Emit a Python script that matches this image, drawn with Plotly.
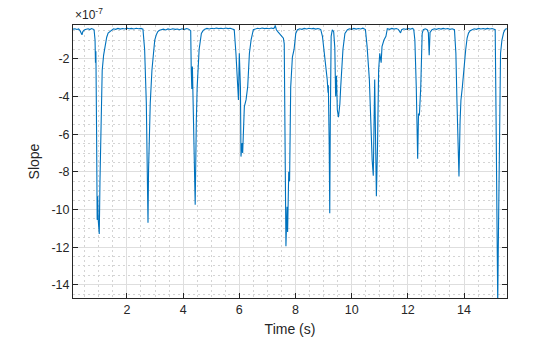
import plotly.graph_objects as go

# Time (s) and slope (in units of 1e-7)
time_s = [
    0.08, 0.15, 0.22, 0.28, 0.33, 0.37, 0.40, 0.43, 0.48, 0.55, 0.62, 0.68, 0.74, 0.80, 0.83,
    0.865, 0.88, 0.895, 0.92, 0.94, 0.96, 0.98, 1.0, 1.015, 1.04, 1.075, 1.12, 1.17, 1.22, 1.28, 1.33, 1.39,
    1.45, 1.52, 1.60, 1.68, 1.76, 1.85, 1.93, 2.00, 2.08, 2.16, 2.25, 2.33, 2.42, 2.50, 2.57,
    2.60, 2.63, 2.69, 2.72, 2.75, 2.77, 2.80, 2.83, 2.89, 2.94, 2.99, 3.05, 3.10, 3.16,
    3.22, 3.30, 3.38, 3.46, 3.55, 3.63, 3.72, 3.80, 3.88, 3.96, 4.05, 4.13, 4.20, 4.27,
    4.29, 4.31, 4.33, 4.35, 4.39, 4.43, 4.47, 4.50, 4.57, 4.61, 4.65, 4.71,
    4.77, 4.85, 4.93, 5.02, 5.10, 5.18, 5.27, 5.35, 5.43, 5.52, 5.60, 5.68, 5.76, 5.82,
    5.88, 5.94, 5.97, 6.00, 6.04, 6.06, 6.10, 6.12, 6.18, 6.24, 6.30, 6.36, 6.42,
    6.50, 6.57, 6.65, 6.73, 6.81, 6.90, 6.98, 7.06, 7.14, 7.21, 7.25, 7.28, 7.32, 7.37, 7.43, 7.49, 7.57,
    7.60, 7.63, 7.66, 7.70, 7.72, 7.76, 7.79, 7.83, 7.89, 7.95, 8.01,
    8.07, 8.15, 8.23, 8.31, 8.40, 8.48, 8.56, 8.64, 8.72, 8.80, 8.86, 8.90,
    8.96, 9.02, 9.08, 9.13, 9.16, 9.17, 9.20, 9.22, 9.24, 9.27, 9.31, 9.36, 9.40, 9.43, 9.46, 9.49, 9.53,
    9.58, 9.61, 9.65, 9.69, 9.76,
    9.85, 9.92, 10.00, 10.08, 10.16, 10.24, 10.32, 10.40, 10.46, 10.49,
    10.55, 10.63, 10.73, 10.77, 10.82, 10.84, 10.88, 10.92, 10.96, 11.00, 11.05, 11.08, 11.15, 11.22,
    11.27, 11.35, 11.43, 11.51, 11.59, 11.66, 11.71, 11.74, 11.78, 11.85, 11.93, 12.01, 12.09, 12.16, 12.21,
    12.25, 12.30, 12.33, 12.35, 12.38, 12.41, 12.46, 12.51,
    12.55, 12.62, 12.69, 12.73, 12.76, 12.79,
    12.86, 12.94, 13.02, 13.10, 13.18, 13.26, 13.34, 13.42, 13.50, 13.58, 13.66,
    13.71, 13.75, 13.80, 13.82, 13.86, 13.89, 13.94, 14.00, 14.06, 14.11, 14.16, 14.22,
    14.28, 14.36, 14.44, 14.52, 14.60, 14.68, 14.76, 14.84, 14.92, 15.00, 15.07, 15.11,
    15.14, 15.18, 15.20, 15.22, 15.26, 15.30, 15.35, 15.41, 15.47, 15.53,
]
slope_e7 = [
    -0.42, -0.40, -0.44, -0.41, -0.50, -0.68, -0.72, -0.55, -0.47, -0.43, -0.40, -0.44, -0.39, -0.42, -0.45,
    -1.0, -2.2, -1.6, -6.0, -10.55, -9.3, -10.6, -11.0, -11.3, -8.5, -5.2, -2.6, -1.8, -1.36, -0.85, -0.63, -0.55,
    -0.45, -0.40, -0.43, -0.38, -0.42, -0.39, -0.41, -0.37, -0.40, -0.38, -0.41, -0.37, -0.40, -0.38, -0.42,
    -0.8, -1.5, -4.35, -7.0, -10.7, -7.9, -5.5, -4.35, -2.6, -1.6, -1.0, -0.7, -0.55, -0.48,
    -0.45, -0.42, -0.46, -0.41, -0.44, -0.40, -0.43, -0.41, -0.45, -0.40, -0.43, -0.39, -0.42, -0.50,
    -2.6, -3.6, -2.4, -3.7, -6.7, -9.75, -5.3, -3.5, -1.5, -0.95, -0.65, -0.50,
    -0.42, -0.38, -0.41, -0.37, -0.40, -0.36, -0.39, -0.37, -0.40, -0.36, -0.39, -0.37, -0.41, -0.45,
    -1.7, -4.0, -4.18, -1.7, -3.47, -7.19, -6.47, -7.0, -4.53, -4.18, -3.47, -1.7, -0.99,
    -0.45, -0.40, -0.37, -0.40, -0.36, -0.39, -0.37, -0.40, -0.36, -0.39, -0.35, -0.22, -0.45, -0.55, -0.65, -0.75, -0.90,
    -1.2, -7.0, -11.95, -9.85, -11.2, -8.0, -8.5, -3.5, -1.9, -1.5, -0.65,
    -0.45, -0.40, -0.43, -0.38, -0.41, -0.37, -0.40, -0.38, -0.42, -0.39, -0.41, -0.45,
    -0.8, -1.7, -2.2, -3.1, -3.8, -3.4, -6.5, -10.2, -5.3, -0.8, -0.46, -0.55, -1.4, -4.0, -2.9, -4.7, -5.1,
    -4.4, -3.5, -2.6, -1.5, -0.65,
    -0.45, -0.40, -0.43, -0.38, -0.42, -0.39, -0.41, -0.37, -0.40, -0.44,
    -1.35, -3.1, -7.4, -8.2, -3.1, -6.8, -9.3, -6.7, -2.6, -1.7, -2.2, -1.35, -1.0, -0.8,
    -0.40, -0.43, -0.38, -0.42, -0.39, -0.43, -0.58, -0.62, -0.45, -0.40, -0.43, -0.39, -0.42, -0.38, -0.43,
    -1.0, -3.5, -5.3, -7.3, -4.9, -5.0, -3.5, -0.65,
    -0.45, -0.40, -0.45, -0.6, -1.8, -0.6,
    -0.45, -0.40, -0.43, -0.39, -0.42, -0.38, -0.41, -0.39, -0.43, -0.40, -0.45,
    -1.7, -4.35, -6.7, -8.25, -5.3, -4.2, -3.5, -2.4, -1.5, -0.9, -0.63, -0.5,
    -0.45, -0.40, -0.43, -0.38, -0.41, -0.39, -0.42, -0.38, -0.41, -0.39, -0.42, -0.45,
    -5.0, -13.7, -15.0, -12.0, -5.3, -1.7, -1.0, -0.6, -0.42, -0.40,
]

x_ticks = [2, 4, 6, 8, 10, 12, 14]
y_ticks = [-2, -4, -6, -8, -10, -12, -14]

AX = "#262626"
FONT = "Liberation Sans, Arial, Helvetica, sans-serif"

fig = go.Figure()
fig.add_trace(go.Scatter(
    x=time_s, y=slope_e7, mode="lines",
    line=dict(color="#0072BD", width=1.1),
    hoverinfo="skip", showlegend=False,
))

axis_common = dict(
    showline=True, linecolor=AX, linewidth=1, mirror="ticks",
    ticks="inside", ticklen=5, tickcolor=AX, tickwidth=1,
    showgrid=True, gridcolor="#dedede", gridwidth=1,
    zeroline=False, automargin=False,
    tickfont=dict(family=FONT, size=12.5, color=AX),
)
minor_grid = dict(dtick=0.5, tick0=0, showgrid=True, gridcolor="#d4d4d4",
                  griddash="2px,3px", gridwidth=1, ticks="")

fig.update_xaxes(
    **axis_common,
    range=[0.08, 15.53], tickvals=x_ticks, ticktext=[str(v) for v in x_ticks],
    minor=minor_grid,
    title=dict(text="Time (s)", font=dict(family=FONT, size=14, color=AX)),
)
fig.update_yaxes(
    **axis_common,
    range=[-14.7, -0.2], tickvals=y_ticks, ticktext=[str(v) for v in y_ticks],
    minor=minor_grid,
    title=dict(text="Slope", font=dict(family=FONT, size=14, color=AX), standoff=8),
)

fig.add_annotation(
    text="×10<sup>-7</sup>", xref="paper", yref="paper", x=0.0, y=1.0,
    xanchor="left", yanchor="bottom", showarrow=False, yshift=1, xshift=0,
    font=dict(family=FONT, size=12, color=AX),
)

fig.update_layout(
    width=560, height=337,
    margin=dict(l=73, r=53, t=25, b=39, pad=0),
    paper_bgcolor="white", plot_bgcolor="white",
    hovermode=False,
)

fig.write_html("out.html", config={"displayModeBar": False})
